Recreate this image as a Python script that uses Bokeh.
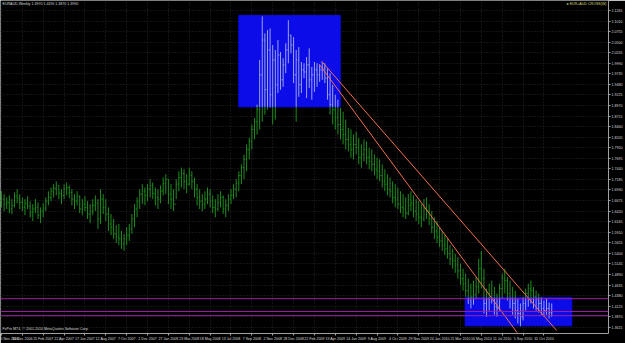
import numpy as np
from bokeh.plotting import figure
from bokeh.models import FixedTicker, Range1d, Label, Span, NumeralTickFormatter
from bokeh.embed import file_html
from bokeh.resources import INLINE

# ---------------- data (EURAUD weekly) ----------------
date_labels = ["5 Nov 2006", "31 Dec 2006", "25 Feb 2007", "22 Apr 2007", "17 Jun 2007",
               "12 Aug 2007", "7 Oct 2007", "2 Dec 2007", "27 Jan 2008", "23 Mar 2008",
               "18 May 2008", "13 Jul 2008", "7 Sep 2008", "2 Nov 2008", "28 Dec 2008",
               "22 Feb 2009", "19 Apr 2009", "14 Jun 2009", "9 Aug 2009", "4 Oct 2009",
               "29 Nov 2009", "24 Jan 2010", "21 Mar 2010", "16 May 2010", "11 Jul 2010",
               "5 Sep 2010", "31 Oct 2010"]
date_label_bars = [0, 8, 16, 24, 32, 40, 48, 56, 64, 72, 80, 88, 96, 104, 112, 120, 128,
                   136, 144, 152, 160, 168, 176, 184, 192, 200, 208]

price_ticks = [2.1265, 2.1010, 2.0755, 2.0500, 2.0245, 1.9990, 1.9735, 1.9480, 1.9225,
               1.8970, 1.8715, 1.8460, 1.8205, 1.7950, 1.7695, 1.7440, 1.7185, 1.6930,
               1.6675, 1.6420, 1.6165, 1.5910, 1.5655, 1.5400, 1.5145, 1.4890, 1.4635,
               1.4380, 1.4125, 1.3870, 1.3615]

bar_high = [1.690, 1.683, 1.675, 1.680, 1.671, 1.687, 1.695, 1.683, 1.675, 1.671,
            1.678, 1.666, 1.659, 1.671, 1.663, 1.651, 1.661, 1.675, 1.690, 1.699,
            1.707, 1.714, 1.704, 1.695, 1.707, 1.711, 1.704, 1.695, 1.683, 1.690,
            1.680, 1.671, 1.678, 1.666, 1.659, 1.671, 1.680, 1.671, 1.695, 1.683,
            1.671, 1.651, 1.635, 1.623, 1.608, 1.611, 1.594, 1.587, 1.603, 1.611,
            1.635, 1.659, 1.675, 1.695, 1.707, 1.699, 1.707, 1.719, 1.711, 1.699,
            1.695, 1.704, 1.723, 1.731, 1.719, 1.707, 1.695, 1.719, 1.738, 1.747,
            1.743, 1.731, 1.747, 1.738, 1.723, 1.707, 1.695, 1.683, 1.690, 1.699,
            1.695, 1.680, 1.671, 1.683, 1.690, 1.680, 1.671, 1.683, 1.695, 1.707,
            1.719, 1.738, 1.755, 1.778, 1.803, 1.819, 1.851, 1.867, 1.899, 2.007,
            2.112, 2.071, 2.079, 2.083, 2.043, 2.031, 2.055, 2.026, 2.011, 2.047,
            2.103, 2.067, 2.062, 2.031, 2.038, 2.002, 1.999, 2.014, 2.035, 1.990,
            2.002, 1.999, 1.995, 2.002, 1.999, 1.987, 1.975, 1.947, 1.923, 1.911,
            1.891, 1.882, 1.863, 1.843, 1.839, 1.827, 1.834, 1.819, 1.803, 1.815,
            1.810, 1.795, 1.791, 1.779, 1.771, 1.767, 1.755, 1.743, 1.731, 1.723,
            1.714, 1.707, 1.699, 1.690, 1.683, 1.675, 1.683, 1.690, 1.680, 1.671,
            1.666, 1.659, 1.671, 1.675, 1.659, 1.642, 1.627, 1.618, 1.603, 1.594,
            1.584, 1.575, 1.560, 1.551, 1.539, 1.531, 1.515, 1.503, 1.491, 1.479,
            1.467, 1.474, 1.483, 1.527, 1.546, 1.503, 1.455, 1.467, 1.474, 1.459,
            1.443, 1.467, 1.491, 1.503, 1.483, 1.474, 1.459, 1.450, 1.431, 1.419,
            1.435, 1.455, 1.467, 1.474, 1.459, 1.450, 1.443, 1.435, 1.426, 1.431,
            1.421, 1.419]

bar_low = [1.651, 1.642, 1.647, 1.637, 1.635, 1.651, 1.661, 1.647, 1.642, 1.632,
           1.647, 1.627, 1.618, 1.637, 1.623, 1.613, 1.627, 1.642, 1.656, 1.666,
           1.675, 1.680, 1.671, 1.659, 1.671, 1.680, 1.673, 1.656, 1.647, 1.656,
           1.637, 1.632, 1.642, 1.623, 1.613, 1.632, 1.642, 1.599, 1.611, 1.635,
           1.618, 1.594, 1.584, 1.575, 1.565, 1.560, 1.551, 1.546, 1.560, 1.570,
           1.587, 1.603, 1.627, 1.647, 1.659, 1.656, 1.666, 1.675, 1.671, 1.656,
           1.647, 1.661, 1.680, 1.683, 1.659, 1.647, 1.642, 1.671, 1.690, 1.699,
           1.695, 1.685, 1.704, 1.695, 1.675, 1.656, 1.647, 1.642, 1.647, 1.659,
           1.651, 1.637, 1.627, 1.642, 1.651, 1.635, 1.627, 1.642, 1.659, 1.671,
           1.675, 1.690, 1.707, 1.719, 1.738, 1.767, 1.791, 1.815, 1.827, 1.839,
           1.858, 1.875, 1.887, 1.891, 1.851, 1.863, 1.927, 1.935, 1.942, 1.975,
           1.999, 2.023, 1.951, 1.858, 1.918, 1.927, 1.963, 1.915, 1.939, 1.911,
           1.930, 1.942, 1.954, 1.959, 1.951, 1.911, 1.875, 1.851, 1.839, 1.827,
           1.815, 1.803, 1.791, 1.786, 1.771, 1.767, 1.779, 1.755, 1.747, 1.762,
           1.755, 1.743, 1.738, 1.728, 1.719, 1.714, 1.699, 1.690, 1.680, 1.675,
           1.661, 1.651, 1.647, 1.637, 1.627, 1.623, 1.632, 1.642, 1.627, 1.618,
           1.611, 1.603, 1.618, 1.623, 1.608, 1.589, 1.575, 1.565, 1.555, 1.546,
           1.536, 1.527, 1.512, 1.503, 1.493, 1.479, 1.464, 1.450, 1.435, 1.418,
           1.407, 1.416, 1.431, 1.443, 1.455, 1.395, 1.387, 1.402, 1.419, 1.392,
           1.387, 1.402, 1.431, 1.443, 1.426, 1.407, 1.392, 1.383, 1.371, 1.363,
           1.378, 1.402, 1.411, 1.419, 1.407, 1.402, 1.397, 1.392, 1.387, 1.392,
           1.383, 1.387]

bar_close = [1.671, 1.659, 1.663, 1.647, 1.656, 1.678, 1.673, 1.663, 1.651, 1.661,
             1.654, 1.639, 1.647, 1.651, 1.632, 1.642, 1.649, 1.666, 1.675, 1.690,
             1.697, 1.704, 1.685, 1.680, 1.695, 1.699, 1.687, 1.671, 1.666, 1.678,
             1.647, 1.659, 1.651, 1.635, 1.642, 1.656, 1.661, 1.623, 1.671, 1.651,
             1.635, 1.611, 1.603, 1.587, 1.579, 1.575, 1.563, 1.575, 1.584, 1.599,
             1.623, 1.647, 1.666, 1.683, 1.690, 1.680, 1.695, 1.704, 1.685, 1.675,
             1.671, 1.690, 1.709, 1.719, 1.683, 1.671, 1.659, 1.707, 1.723, 1.733,
             1.714, 1.707, 1.728, 1.714, 1.695, 1.675, 1.666, 1.659, 1.671, 1.683,
             1.666, 1.651, 1.647, 1.663, 1.675, 1.647, 1.656, 1.671, 1.680, 1.695,
             1.709, 1.728, 1.747, 1.767, 1.791, 1.810, 1.839, 1.858, 1.887, 1.971,
             2.055, 1.935, 2.031, 1.923, 2.007, 1.947, 2.019, 1.959, 1.995, 2.031,
             2.067, 2.043, 1.971, 2.007, 1.947, 1.983, 1.978, 1.995, 1.959, 1.971,
             1.983, 1.971, 1.983, 1.987, 1.963, 1.923, 1.899, 1.887, 1.867, 1.851,
             1.839, 1.827, 1.815, 1.803, 1.791, 1.803, 1.795, 1.771, 1.779, 1.791,
             1.771, 1.762, 1.755, 1.743, 1.738, 1.728, 1.714, 1.707, 1.695, 1.690,
             1.675, 1.671, 1.659, 1.651, 1.647, 1.637, 1.656, 1.661, 1.642, 1.635,
             1.627, 1.623, 1.647, 1.642, 1.623, 1.603, 1.594, 1.579, 1.570, 1.560,
             1.551, 1.539, 1.527, 1.522, 1.512, 1.498, 1.479, 1.467, 1.450, 1.431,
             1.435, 1.440, 1.459, 1.503, 1.479, 1.419, 1.431, 1.443, 1.431, 1.411,
             1.407, 1.455, 1.479, 1.474, 1.443, 1.431, 1.419, 1.402, 1.395, 1.387,
             1.419, 1.443, 1.455, 1.450, 1.435, 1.431, 1.419, 1.407, 1.402, 1.407,
             1.397, 1.399]
first_open = 1.680
bar_open = [first_open] + bar_close[:-1]

# rectangles (bar index from/to, price top/bottom)
box_left = [91.0, 177.8]
box_right = [129.9, 218.7]
box_top = [2.1145, 1.4329]
box_bottom = [1.8937, 1.3650]

# trend lines (bar index, price) start -> end
trend_x0 = [121.8, 122.7]
trend_p0 = [1.9969, 2.0041]
trend_x1 = [197.7, 212.9]
trend_p1 = [1.3489, 1.3537]

# horizontal levels
levels = [1.4305, 1.3997, 1.3895]
level_text = ["1.4305", "1.3997", "1.3895"]
bid_price = 1.3990

# ---------------- layout constants ----------------
W, H = 625, 343
FRAME_W, FRAME_H = 612, 335
X0, XPX = -0.38, 2.625
P_TOP, PPX = 2.1505, 0.0024

GREEN = "#1f8c1f"
LIGHT = "#9aa2e6"
BLUE = "#0c0ce8"
FONT = "Liberation Sans"
FS = "3.6px"

p = figure(width=W, height=H, output_backend="svg", toolbar_location=None,
           x_range=Range1d(X0, X0 + FRAME_W / XPX),
           y_range=Range1d(P_TOP - FRAME_H * PPX, P_TOP),
           y_axis_location="right", x_axis_location="below",
           min_border_left=0, min_border_right=0, min_border_top=0, min_border_bottom=0)
p.background_fill_color = "black"
p.border_fill_color = "black"
p.outline_line_color = None

# axes
ya = p.yaxis[0]
ya.ticker = FixedTicker(ticks=price_ticks)
ya.formatter = NumeralTickFormatter(format="0.0000")
ya.major_label_text_font_size = FS
ya.major_label_text_font = FONT
ya.major_label_text_color = "#d8d8d8"
ya.major_label_standoff = 1
ya.major_tick_out = 2
ya.major_tick_in = 0
ya.minor_tick_out = 0
ya.minor_tick_in = 0
ya.major_tick_line_color = "#a0a0a0"
ya.axis_line_color = "#a0a0a0"

xa = p.xaxis[0]
xa.ticker = FixedTicker(ticks=date_label_bars)
xa.major_label_overrides = {b: s for b, s in zip(date_label_bars, date_labels)}
xa.major_label_text_font_size = FS
xa.major_label_text_font = FONT
xa.major_label_text_color = "#d8d8d8"
xa.major_label_text_align = "left"
xa.major_label_standoff = 1
xa.major_tick_out = 2
xa.major_tick_in = 0
xa.minor_tick_out = 0
xa.minor_tick_in = 0
xa.major_tick_line_color = "#a0a0a0"
xa.axis_line_color = "#a0a0a0"

for g in (p.xgrid[0], p.ygrid[0]):
    g.grid_line_color = "#262626"
    g.grid_line_dash = "1 2"
p.ygrid[0].ticker = FixedTicker(ticks=price_ticks)
p.xgrid[0].ticker = FixedTicker(ticks=date_label_bars)

# rectangles
p.quad(left=box_left, right=box_right, top=box_top, bottom=box_bottom,
       fill_color=BLUE, line_color=BLUE)

# split bars into parts outside (green) and inside (light) the rectangles
seg = {"g": ([], [], [], []), "l": ([], [], [], [])}


def add(kind, x0, y0, x1, y1):
    s = seg[kind]
    s[0].append(x0); s[1].append(y0); s[2].append(x1); s[3].append(y1)


def box_of(i):
    for b in range(len(box_left)):
        if box_left[b] <= i <= box_right[b]:
            return b
    return None


TICK = 0.36
for i in range(len(bar_high)):
    hi, lo, o, c = bar_high[i], bar_low[i], bar_open[i], bar_close[i]
    b = box_of(i)
    if b is None:
        add("g", i, lo, i, hi)
        add("g", i - TICK, o, i, o)
        add("g", i, c, i + TICK, c)
        continue
    top, bot = box_top[b], box_bottom[b]
    a, z = max(lo, bot), min(hi, top)
    if a < z:
        add("l", i, a, i, z)
    if lo < bot:
        add("g", i, lo, i, min(hi, bot))
    if hi > top:
        add("g", i, max(lo, top), i, hi)
    add("l" if bot <= o <= top else "g", i - TICK, o, i, o)
    add("l" if bot <= c <= top else "g", i, c, i + TICK, c)

for kind, col in (("g", GREEN), ("l", LIGHT)):
    s = seg[kind]
    p.segment(x0=s[0], y0=s[1], x1=s[2], y1=s[3], line_color=col, line_width=1)

# horizontal levels
for lv in levels:
    p.add_layout(Span(location=lv, dimension="width", line_color="#a020a0", line_width=1))

# trend lines
p.segment(x0=trend_x0, y0=trend_p0, x1=trend_x1, y1=trend_p1,
          line_color="#f2704e", line_width=1)

# price labels on the axis for levels and bid
xr_end = X0 + FRAME_W / XPX
for lv, t in zip(levels, level_text):
    p.add_layout(Label(x=xr_end, y=lv, text=t, x_offset=2, text_baseline="middle",
                       text_font=FONT, text_font_size=FS, text_color="white",
                       background_fill_color="#a020a0"))
p.add_layout(Label(x=xr_end, y=bid_price, text="1.3990", x_offset=2, text_baseline="middle",
                   text_font=FONT, text_font_size=FS, text_color="black",
                   background_fill_color="white"))

# texts
p.add_layout(Label(x=X0, y=P_TOP, x_offset=2, y_offset=-5, text="EURAUD,Weekly  1.3970 1.4190 1.3870 1.3990",
                   text_font=FONT, text_font_size=FS, text_color="#d8d8d8"))
p.add_layout(Label(x=xr_end, y=P_TOP, x_offset=-2, y_offset=-5, text="\u25CF EUR+AUD CROSS(W)",
                   text_align="right", text_font=FONT, text_font_size=FS, text_color="#d8d870"))
p.add_layout(Label(x=X0, y=P_TOP - FRAME_H * PPX, x_offset=2, y_offset=3,
                   text="FxPro MT4, \u00A9 2001-2010 MetaQuotes Software Corp.",
                   text_font=FONT, text_font_size=FS, text_color="#d8d8d8"))

open("out.html", "w").write(file_html(p, INLINE))
